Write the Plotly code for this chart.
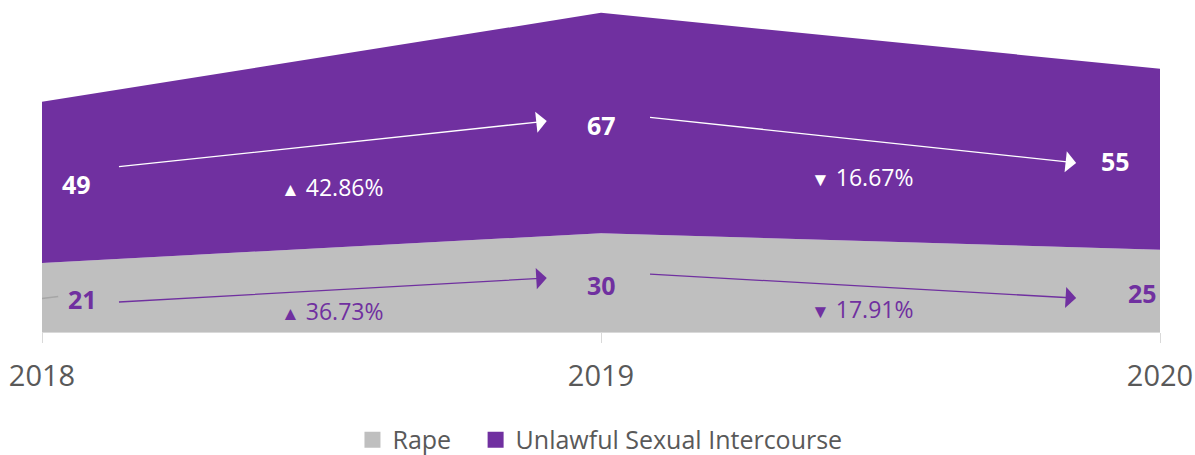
import plotly.graph_objects as go

years = [2018, 2019, 2020]
rape = [21, 30, 25]
usi = [49, 67, 55]
series_names = ["Rape", "Unlawful Sexual Intercourse"]
# change labels as shown in the chart (band order: purple band, gray band)
usi_band_changes = ["▲|42.86%", "▼|16.67%"]
rape_band_changes = ["▲|36.73%", "▼|17.91%"]

PURPLE = "#7030A0"
GRAY = "#BFBFBF"
TXT = "#595959"
FONT = "Open Sans"

W, H = 1195, 455
ML, MR, MT, MB = 42, 35, 3, 123
PLOT_H = H - MT - MB
PX_PER_UNIT = 3.29
y_top = PLOT_H / PX_PER_UNIT

fig = go.Figure()
fig.add_trace(go.Scatter(x=years, y=rape, name=series_names[0], stackgroup="s",
                         mode="lines", line=dict(width=0, color=GRAY), fillcolor=GRAY,
                         showlegend=False, hoverinfo="skip"))
fig.add_trace(go.Scatter(x=years, y=usi, name=series_names[1], stackgroup="s",
                         mode="lines", line=dict(width=0, color=PURPLE), fillcolor=PURPLE,
                         showlegend=False, hoverinfo="skip"))
# legend entries (extra non-breaking spaces reproduce the reference item spacing)
legend_pad = ["\u00a0\u00a0\u00a0", ""]
for nm, col, pad in zip(series_names, [GRAY, PURPLE], legend_pad):
    fig.add_trace(go.Scatter(x=[None], y=[None], name=nm + pad, mode="markers",
                             marker=dict(symbol="square", size=17, color=col)))

rape_mid = [r / 2 for r in rape]
usi_mid = [r + u / 2 for r, u in zip(rape, usi)]

anns = []
# value labels
usi_xshift = [34, 0, -45]
rape_xshift = [40, 0, -18]
for i, yr in enumerate(years):
    anns.append(dict(x=yr, y=usi_mid[i], text=f"<b>{usi[i]}</b>", showarrow=False,
                     xshift=usi_xshift[i], yshift=-2, font=dict(color="white", size=25, family=FONT)))
    anns.append(dict(x=yr, y=rape_mid[i], text=f"<b>{rape[i]}</b>", showarrow=False,
                     xshift=rape_xshift[i], yshift=-2, font=dict(color=PURPLE, size=25, family=FONT)))

# arrows (tail/head offsets from label positions, in axis units)
tail_off = [0.135, 0.085]
head_off = [0.097, 0.15]
usi_arrow_dy = [(4.7, 0.6), (1.8, -1.1)]
rape_arrow_dy = [(-1.4, 1.4), (2.6, -2.2)]
totals = [r + u for r, u in zip(rape, usi)]
for i in range(2):
    x0 = years[i] + tail_off[i]
    x1 = years[i + 1] - head_off[i]
    for mids, col, lst, frac, lo, hi, dy in [
        (usi_mid, "white", usi_band_changes, 0.317, rape, totals, usi_arrow_dy[i]),
        (rape_mid, PURPLE, rape_band_changes, 0.25, [0, 0, 0], rape, rape_arrow_dy[i])]:
        anns.append(dict(x=x1, y=mids[i + 1] + dy[1], ax=x0, ay=mids[i] + dy[0],
                         axref="x", ayref="y", xref="x", yref="y", text="", showarrow=True,
                         arrowhead=1, arrowsize=2.7, arrowwidth=1.3, arrowcolor=col))
        xm = (x0 + x1) / 2
        t = (xm - years[i])
        b = lo[i] + (lo[i + 1] - lo[i]) * t
        tp = hi[i] + (hi[i + 1] - hi[i]) * t
        ym = b + frac * (tp - b)
        sym, pct = lst[i].split("|")
        anns.append(dict(x=xm, y=ym, showarrow=False,
                         text=f"<span style='font-size:19px'>{sym}</span> {pct}",
                         font=dict(color=col, size=23, family=FONT)))

fig.update_layout(
    width=W, height=H,
    margin=dict(l=ML, r=MR, t=MT, b=MB, autoexpand=False),
    paper_bgcolor="white", plot_bgcolor="white",
    font=dict(family=FONT, color=TXT),
    annotations=anns,
    shapes=[dict(type="line", xref="x", yref="y", x0=years[0], x1=years[0] + 0.029,
                 y0=rape_mid[0] - 0.3, y1=rape_mid[0] + 0.3,
                 line=dict(color="#A6A6A6", width=1.5))],
    xaxis=dict(range=[2018, 2020], tickvals=years, ticktext=[str(y) for y in years],
               showgrid=False, zeroline=False, showline=True, linecolor="#D9D9D9",
               ticks="outside", ticklen=10, tickcolor="#D9D9D9", ticklabelstandoff=8,
               tickfont=dict(size=29, color=TXT, family=FONT)),
    yaxis=dict(range=[0, y_top], visible=False, showgrid=False, zeroline=False),
    legend=dict(orientation="h", x=0.2777, xanchor="left", y=-0.328, yanchor="middle",
                traceorder="normal", itemsizing="trace",
                font=dict(size=25, color=TXT, family=FONT)),
    showlegend=True,
)

# remove the browser's default 8px page margin so the figure fills the window exactly
fig.write_html("out.html", config={"displayModeBar": False},
               post_script="document.body.style.margin='0';")
